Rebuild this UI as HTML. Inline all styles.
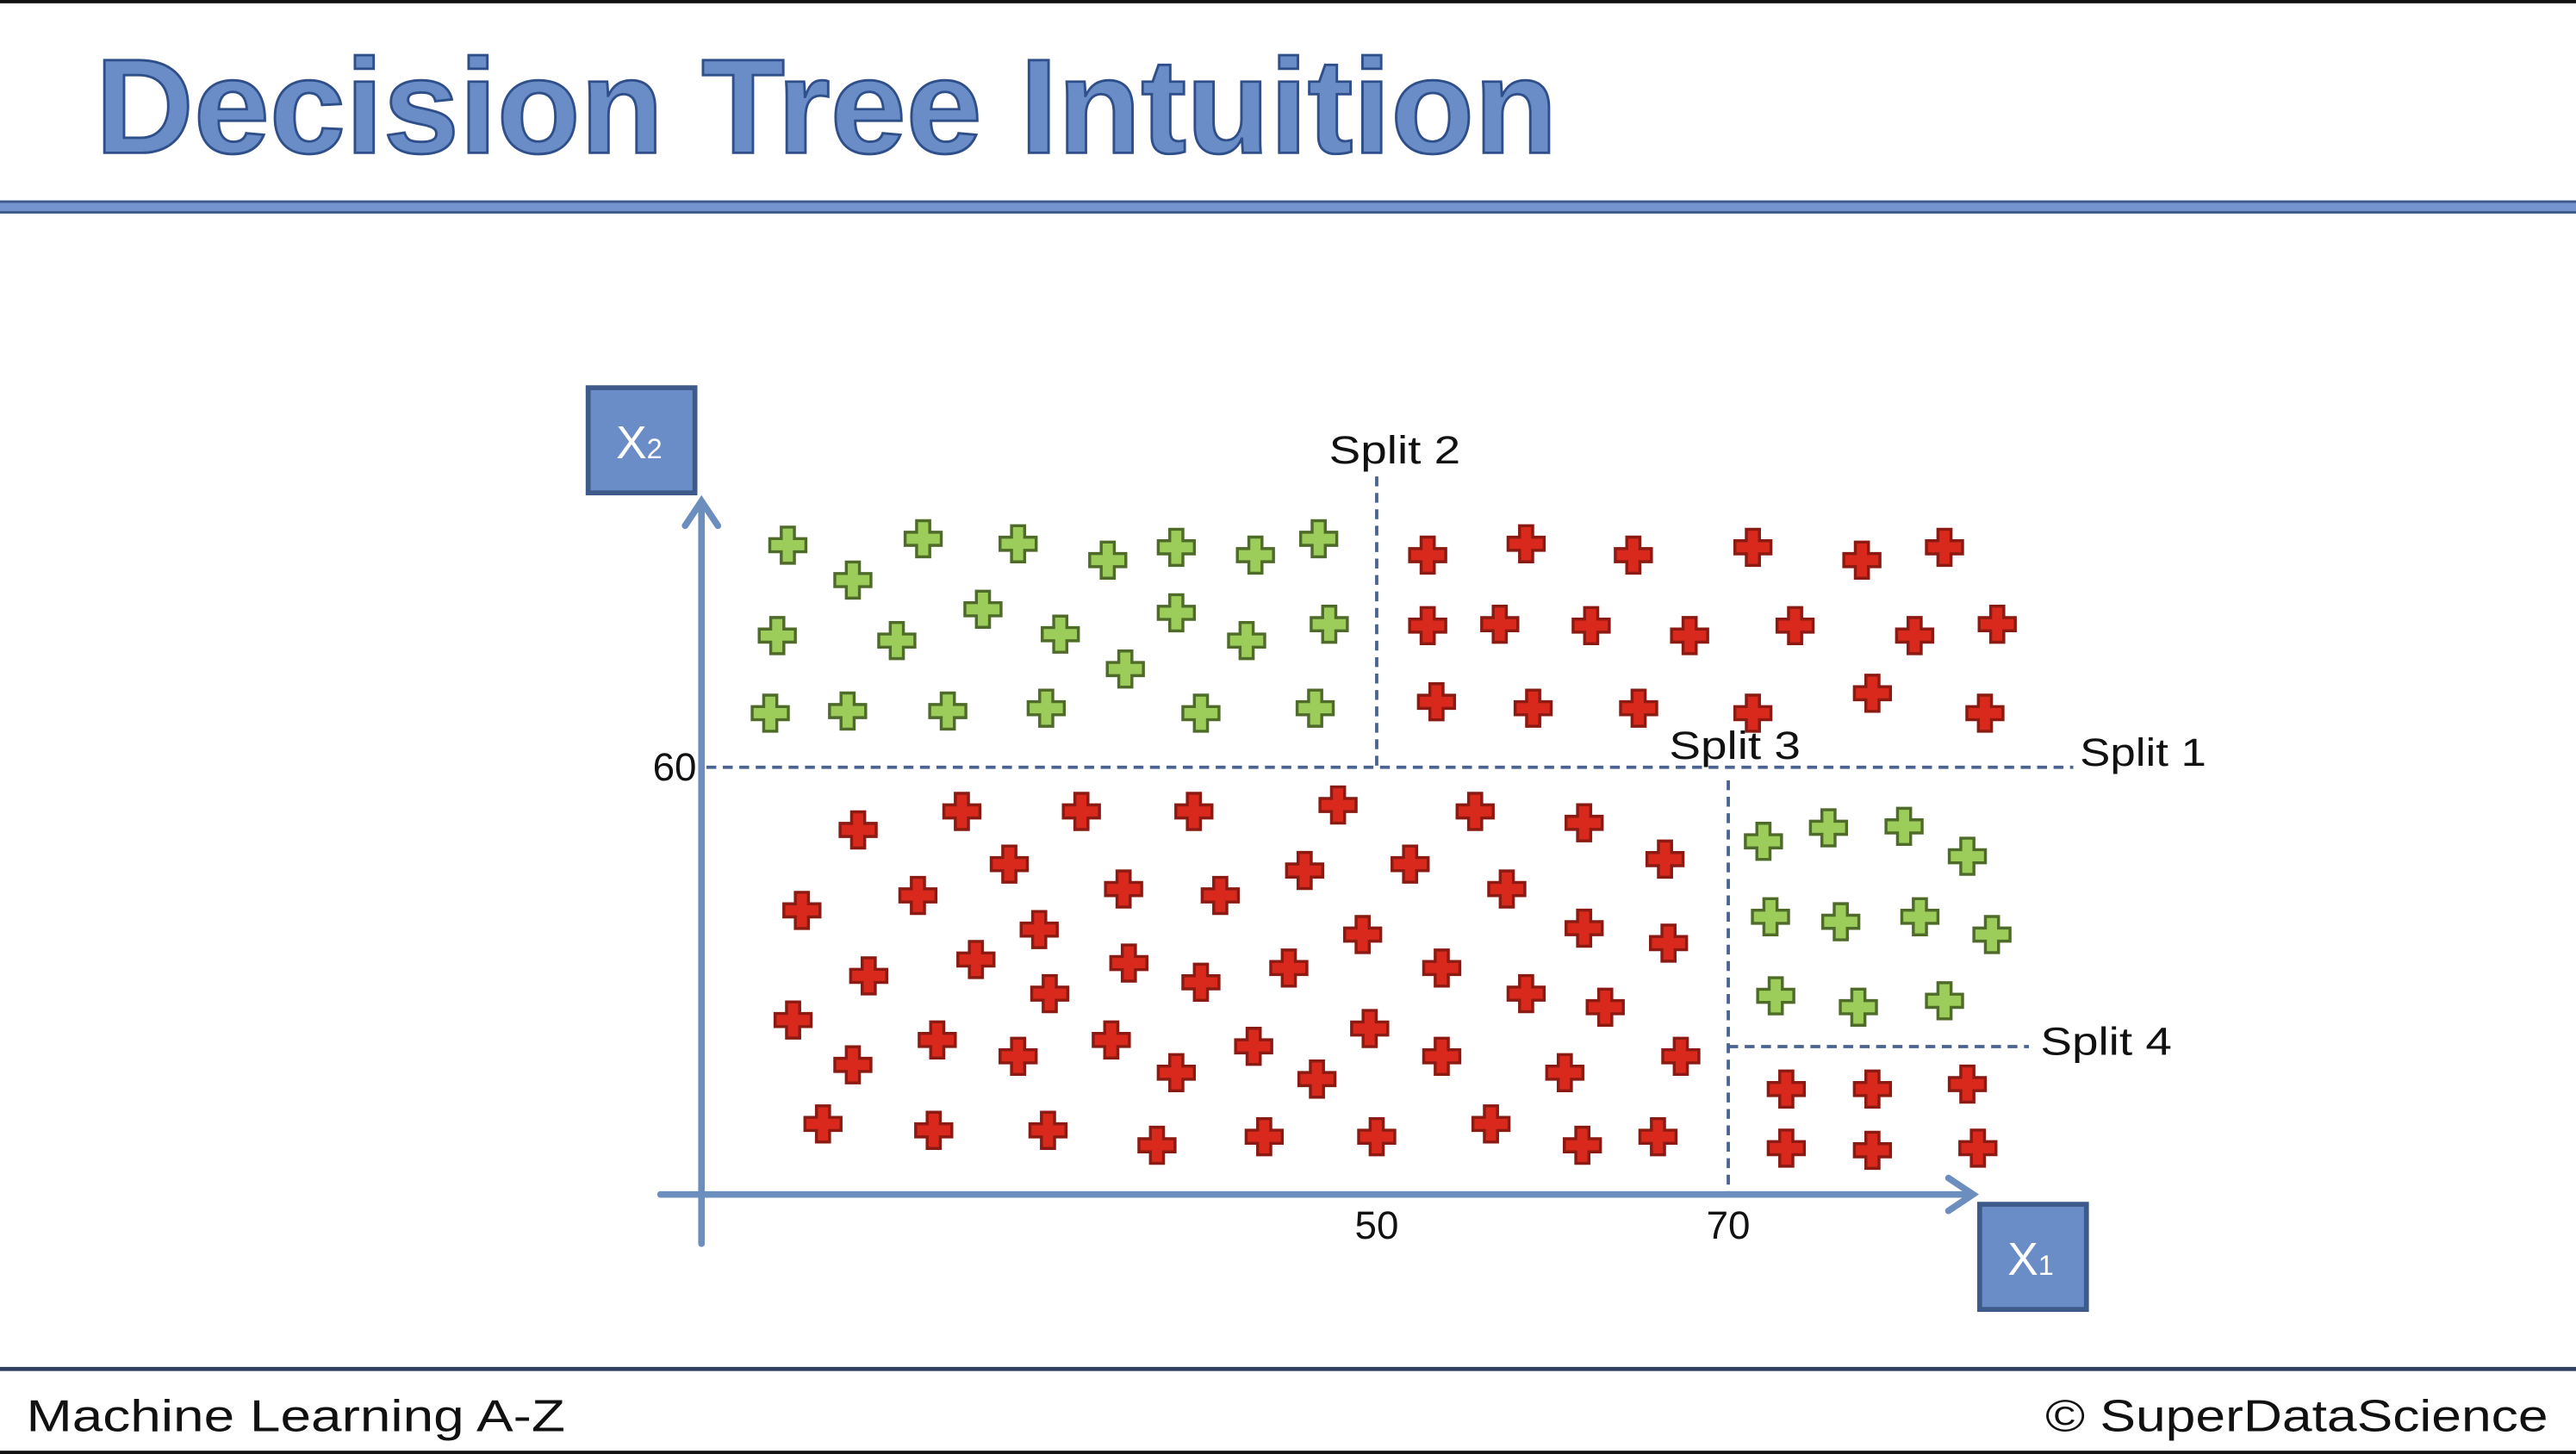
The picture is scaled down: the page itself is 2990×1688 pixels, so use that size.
<!DOCTYPE html>
<html><head><meta charset="utf-8"><style>
html,body{margin:0;padding:0;background:#fff;}
svg{display:block;}
text{font-family:"Liberation Sans",sans-serif;}
</style></head><body>
<svg id="chart" width="2990" height="1688" viewBox="0 0 1568 885" preserveAspectRatio="none" xmlns="http://www.w3.org/2000/svg">
<rect x="0" y="0" width="1568" height="885" fill="#fff"/>
<rect x="0" y="0" width="1568" height="2" fill="#111"/>
<text x="58" y="93" font-size="82" font-weight="bold" fill="#6a8cc7" stroke="#2f4f8a" stroke-width="1.5" textLength="890" lengthAdjust="spacingAndGlyphs">Decision Tree Intuition</text>
<g>
<rect x="0" y="122" width="1568" height="8" fill="#7394cf"/>
<rect x="0" y="122" width="1568" height="1.5" fill="#3d5a8a"/>
<rect x="0" y="128.5" width="1568" height="1.5" fill="#3d5a8a"/>
</g>
<g id="splits" stroke="#4a6390" stroke-width="2" stroke-dasharray="6 4" fill="none">
<line x1="430" y1="467" x2="1262" y2="467"/>
<line x1="838" y1="290" x2="838" y2="467"/>
<line x1="1052" y1="475" x2="1052" y2="727"/>
<line x1="1052" y1="637" x2="1235" y2="637"/>
</g>
<g fill="#111" font-size="24">
<text x="809" y="282" textLength="80" lengthAdjust="spacingAndGlyphs">Split 2</text>
<text x="1016" y="462" textLength="80" lengthAdjust="spacingAndGlyphs">Split 3</text>
<text x="1266" y="466" textLength="77" lengthAdjust="spacingAndGlyphs">Split 1</text>
<text x="1242" y="642" textLength="80" lengthAdjust="spacingAndGlyphs">Split 4</text>
<text x="424" y="475" text-anchor="end">60</text>
<text x="838" y="754" text-anchor="middle">50</text>
<text x="1052" y="754" text-anchor="middle">70</text>
</g>
<g id="marks"></g>
<g stroke="#6c8ebf" stroke-width="4" fill="none" stroke-linecap="round">
<line x1="427" y1="757" x2="427" y2="306"/>
<polyline points="417,320 427,305 437,320"/>
<line x1="402" y1="727" x2="1200" y2="727"/>
<polyline points="1186,717 1201,727 1186,737"/>
</g>
<g>
<rect x="358" y="236" width="65" height="64" fill="#6a8cc7" stroke="#3d5a8a" stroke-width="3"/>
<text x="375" y="279" font-size="28" fill="#fff">X<tspan font-size="17">2</tspan></text>
</g>
<g>
<rect x="1205" y="733" width="65" height="64" fill="#6a8cc7" stroke="#3d5a8a" stroke-width="3"/>
<text x="1222" y="776" font-size="28" fill="#fff">X<tspan font-size="17">1</tspan></text>
</g>
<rect x="0" y="832" width="1568" height="2.5" fill="#2f3f5f"/>
<text x="16" y="871" font-size="27" fill="#111" textLength="328" lengthAdjust="spacingAndGlyphs">Machine Learning A-Z</text>
<text x="1245" y="871" font-size="27" fill="#111" textLength="306" lengthAdjust="spacingAndGlyphs">© SuperDataScience</text>
<rect x="0" y="883" width="1568" height="2" fill="#111"/>
</svg>
<script>
const greenX1 = [16.5,20.2,24.2,29.6,34.7,38.6,43.1,46.7,15.9,22.7,27.6,32.0,38.6,42.6,47.3,35.7,15.5,19.9,25.6,31.2,40.0,46.5,72.0,75.7,80.0,83.6,72.4,76.4,80.9,85.0,72.7,77.4,82.3];
const greenX2 = [91.2,86.3,92.1,91.4,89.1,90.9,89.8,92.1,78.5,77.8,82.2,78.7,81.7,77.8,80.1,73.8,67.6,67.9,67.9,68.3,67.6,68.3,49.6,51.5,51.7,47.5,39.0,38.3,39.0,36.5,27.9,26.3,27.2];
const redX1 = [52.9,58.5,64.6,71.4,77.6,82.3,52.9,57.0,62.2,67.8,73.8,80.6,85.3,53.4,58.9,64.9,71.4,78.2,84.6,
20.5,26.4,33.2,39.6,47.8,55.6,61.8,66.4,29.1,17.3,23.9,35.6,41.1,45.9,51.9,57.4,21.1,27.2,30.8,31.4,35.9,40.0,45.0,49.2,53.7,61.8,66.6,58.5,63.0,16.8,25.0,29.6,34.9,43.0,49.6,53.7,20.2,38.6,46.6,60.7,67.3,18.5,24.8,31.3,37.5,43.6,50.0,56.5,61.7,66.0,
73.3,78.2,83.6,73.3,78.2,84.2];
const redX2 = [89.8,91.4,89.8,90.9,89.1,90.9,79.9,80.1,79.9,78.5,79.9,78.5,80.1,69.2,68.3,68.3,67.6,70.4,67.6,
51.2,53.8,53.8,53.8,54.7,53.8,52.2,47.1,46.4,39.9,42.0,42.9,42.0,45.5,46.4,42.9,30.7,33.0,37.2,28.2,32.5,29.8,31.8,36.5,31.8,37.4,35.3,28.2,26.3,24.5,21.7,19.4,21.7,20.8,23.3,19.4,18.2,17.1,16.2,17.1,19.4,9.9,9.0,9.0,6.9,8.1,8.1,9.9,6.9,8.1,
14.8,14.8,15.5,6.5,6.2,6.5];

function xScale(v){ return 303 + 10.7 * v; }
function yScale(v){ return 727 - 4.333 * v; }

const NS = "http://www.w3.org/2000/svg";
const marks = document.getElementById('marks');
function plusPath(cx, cy){
  const a = 11, b = 4;
  return `M${cx-b},${cy-a}H${cx+b}V${cy-b}H${cx+a}V${cy+b}H${cx+b}V${cy+a}H${cx-b}V${cy+b}H${cx-a}V${cy-b}H${cx-b}Z`;
}
function drawSeries(xs, ys, fill, stroke, name){
  for (let i = 0; i < xs.length; i++){
    const p = document.createElementNS(NS, 'path');
    p.setAttribute('d', plusPath(xScale(xs[i]), yScale(ys[i])));
    p.setAttribute('fill', fill);
    p.setAttribute('stroke', stroke);
    p.setAttribute('stroke-width', '1.8');
    
    
    marks.appendChild(p);
  }
}
drawSeries(greenX1, greenX2, '#9ccc5a', '#4f6b2a', 'green-point');
drawSeries(redX1, redX2, '#d9281c', '#8a1a12', 'red-point');
</script>
</body></html>
